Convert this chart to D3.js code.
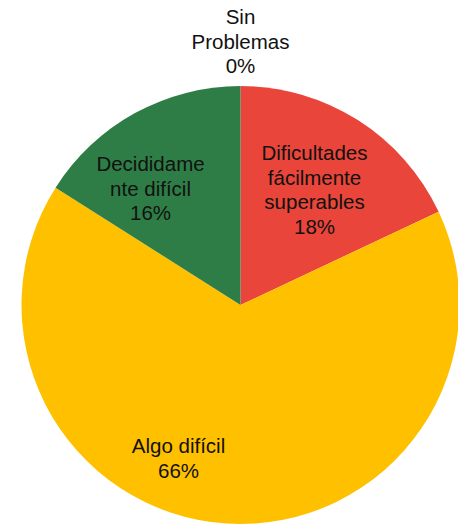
<!DOCTYPE html>
<html><head><meta charset="utf-8">
<script src="https://cdn.jsdelivr.net/npm/d3@7"></script>
<style>html,body{margin:0;padding:0;background:#fff;}svg{display:block;}</style>
</head><body>
<svg id="chart" width="458" height="527"></svg>
<script>
const categories = ["Sin Problemas", "Dificultades fácilmente superables", "Algo difícil", "Decididamente difícil"];
const values = [0, 18, 66, 16];
const labelLines = [["Sin", "Problemas"], ["Dificultades", "fácilmente", "superables"], ["Algo difícil"], ["Decididame", "nte difícil"]];
const colors = ["#4472C4", "#E9453A", "#FFC000", "#2E7D46"];

const svg = d3.select("#chart");
const cx = 240.5, cy = 305, r = 219;
const g = svg.append("g").attr("transform", `translate(${cx},${cy})`);

const pie = d3.pie().sort(null).value(d => d.v);
const data = pie(categories.map((c, i) => ({c, v: values[i], i})));
const arc = d3.arc().innerRadius(0).outerRadius(r);

g.selectAll("path").data(data).enter().append("path")
  .attr("d", arc)
  .attr("fill", d => colors[d.data.i]);

// label positions (relative to center), font placement
const labelPos = [
  {x: 0, y: -288, out: true},
  {x: 74, y: -152},
  {x: -62, y: 141},
  {x: -90, y: -141}
];
const lh = 24.5;
data.forEach((d, i) => {
  const lines = labelLines[i].concat([d3.format(".0f")(values[i]) + "%"]);
  const p = labelPos[i];
  const t = g.append("text")
    .attr("text-anchor", "middle")
    .attr("font-family", "Liberation Sans, Arial, sans-serif")
    .attr("font-size", 20.5)
    .attr("fill", "#111");
  lines.forEach((ln, k) => {
    t.append("tspan").attr("x", p.x).attr("y", p.y + k * lh).attr("dy", "0.35em").text(ln);
  });
});
</script>
</body></html>
